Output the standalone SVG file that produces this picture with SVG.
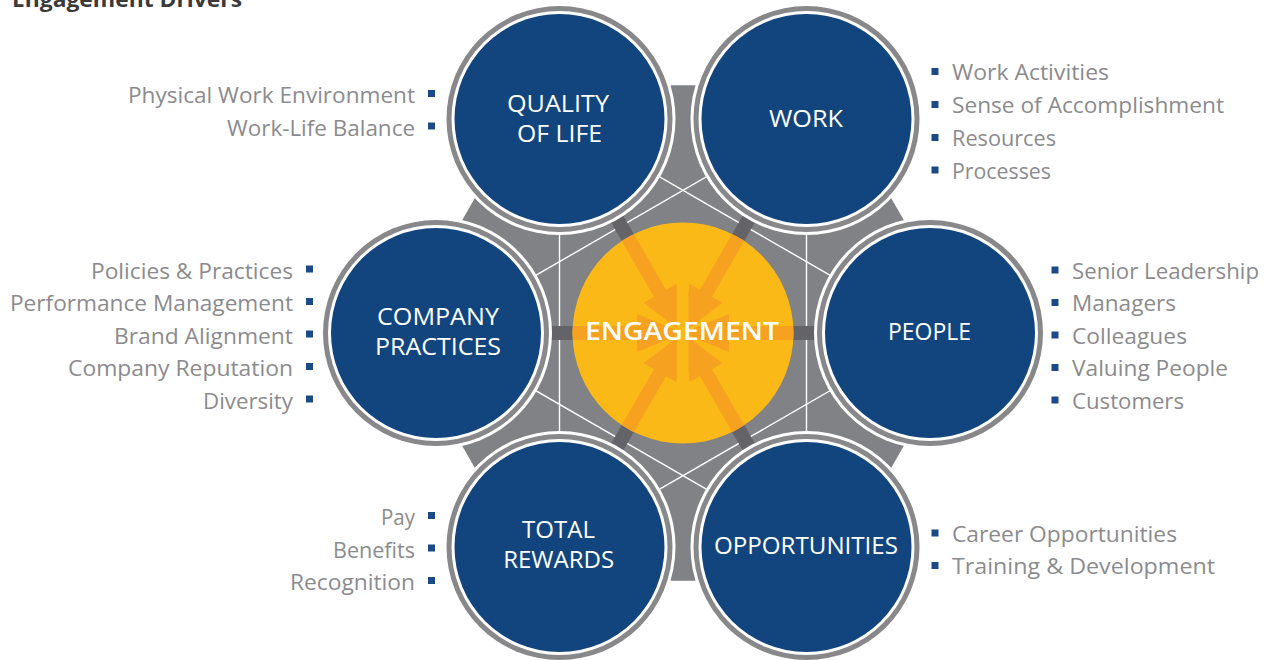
<svg xmlns="http://www.w3.org/2000/svg" width="1272" height="660" viewBox="0 0 1272 660">
<style>
.lst{font-family:"Open Sans","Liberation Sans",sans-serif;font-size:22px;fill:#8b8b8e}
.end{text-anchor:end}
.lbl{font-family:"Open Sans","Liberation Sans",sans-serif;font-size:23px;fill:#ffffff;text-anchor:middle}
.bul{fill:#1b4a86}
.ow{fill:#ffffff}
.ring{fill:#88888b}
.blue{fill:#12457e}
.hx{stroke:#ffffff;stroke-width:1.4;fill:none}
.bar{stroke:#646368;stroke-width:14}
.arr{fill:#f6a11f}
</style>
<defs>
<clipPath id="engClip"><circle cx="683" cy="333" r="110.5"/></clipPath>
<clipPath id="gapClip"><rect x="560" y="200" width="116.8" height="270"/><rect x="688.4" y="200" width="120" height="270"/></clipPath>
<polygon id="arrowShape" points="0,0 46,-19 46,-7 130,-7 130,7 46,7 46,19"/>
</defs>
<rect width="1272" height="660" fill="#ffffff"/>
<text x="12" y="7" font-family="Open Sans, Liberation Sans, sans-serif" font-size="22" font-weight="700" fill="#3a3a3a" textLength="230" lengthAdjust="spacingAndGlyphs">Engagement Drivers</text>

<g id="background">
<polygon points="397,333 540,85.3 826,85.3 969,333 826,580.7 540,580.7" fill="#818285"/>
<line class="hx" x1="559.5" y1="119" x2="930" y2="333"/>
<line class="hx" x1="930" y1="333" x2="559.5" y2="547"/>
<line class="hx" x1="559.5" y1="547" x2="559.5" y2="119"/>
<line class="hx" x1="806.5" y1="119" x2="806.5" y2="547"/>
<line class="hx" x1="806.5" y1="547" x2="436" y2="333"/>
<line class="hx" x1="436" y1="333" x2="806.5" y2="119"/>
</g>

<g id="connectors">
<g transform="translate(683,333)">
<line class="bar" x1="100" y1="0" x2="200" y2="0" transform="rotate(-120)"/>
<line class="bar" x1="100" y1="0" x2="200" y2="0" transform="rotate(-60)"/>
<line class="bar" x1="100" y1="0" x2="200" y2="0" transform="rotate(0)"/>
<line class="bar" x1="100" y1="0" x2="200" y2="0" transform="rotate(60)"/>
<line class="bar" x1="100" y1="0" x2="200" y2="0" transform="rotate(120)"/>
<line class="bar" x1="100" y1="0" x2="200" y2="0" transform="rotate(180)"/>
</g>
</g>

<g id="node-quality-of-life">
<circle class="ow" cx="559.5" cy="119" r="116"/>
<circle class="ring" cx="559.5" cy="119" r="113"/>
<circle class="ow" cx="559.5" cy="119" r="108"/>
<circle class="blue" cx="559.5" cy="119" r="105"/>
<text class="lbl" x="558" y="112" textLength="102" lengthAdjust="spacingAndGlyphs">QUALITY</text>
<text class="lbl" x="559.5" y="142" textLength="85" lengthAdjust="spacingAndGlyphs">OF LIFE</text>
</g>

<g id="node-work">
<circle class="ow" cx="806.5" cy="119" r="116"/>
<circle class="ring" cx="806.5" cy="119" r="113"/>
<circle class="ow" cx="806.5" cy="119" r="108"/>
<circle class="blue" cx="806.5" cy="119" r="105"/>
<text class="lbl" x="806" y="127" textLength="74" lengthAdjust="spacingAndGlyphs">WORK</text>
</g>

<g id="node-company-practices">
<circle class="ow" cx="436" cy="333" r="116"/>
<circle class="ring" cx="436" cy="333" r="113"/>
<circle class="ow" cx="436" cy="333" r="108"/>
<circle class="blue" cx="436" cy="333" r="105"/>
<text class="lbl" x="438" y="325" textLength="122" lengthAdjust="spacingAndGlyphs">COMPANY</text>
<text class="lbl" x="438" y="355" textLength="126" lengthAdjust="spacingAndGlyphs">PRACTICES</text>
</g>

<g id="node-people">
<circle class="ow" cx="930" cy="333" r="116"/>
<circle class="ring" cx="930" cy="333" r="113"/>
<circle class="ow" cx="930" cy="333" r="108"/>
<circle class="blue" cx="930" cy="333" r="105"/>
<text class="lbl" x="929.5" y="340" textLength="83" lengthAdjust="spacingAndGlyphs">PEOPLE</text>
</g>

<g id="node-total-rewards">
<circle class="ow" cx="559.5" cy="547" r="116"/>
<circle class="ring" cx="559.5" cy="547" r="113"/>
<circle class="ow" cx="559.5" cy="547" r="108"/>
<circle class="blue" cx="559.5" cy="547" r="105"/>
<text class="lbl" x="558.5" y="538" textLength="73" lengthAdjust="spacingAndGlyphs">TOTAL</text>
<text class="lbl" x="558.7" y="568" textLength="111" lengthAdjust="spacingAndGlyphs">REWARDS</text>
</g>

<g id="node-opportunities">
<circle class="ow" cx="806.5" cy="547" r="116"/>
<circle class="ring" cx="806.5" cy="547" r="113"/>
<circle class="ow" cx="806.5" cy="547" r="108"/>
<circle class="blue" cx="806.5" cy="547" r="105"/>
<text class="lbl" x="806" y="554" textLength="184" lengthAdjust="spacingAndGlyphs">OPPORTUNITIES</text>
</g>

<g id="node-engagement">
<circle cx="683" cy="333" r="110.5" fill="#fbb918"/>
<g clip-path="url(#engClip)">
<g clip-path="url(#gapClip)">
<g transform="translate(683,333)">
<use href="#arrowShape" class="arr" transform="rotate(-120)"/>
<use href="#arrowShape" class="arr" transform="rotate(-60)"/>
<use href="#arrowShape" class="arr" transform="rotate(0)"/>
<use href="#arrowShape" class="arr" transform="rotate(60)"/>
<use href="#arrowShape" class="arr" transform="rotate(120)"/>
<use href="#arrowShape" class="arr" transform="rotate(180)"/>
</g>
</g>
</g>
<text x="682" y="340" font-family="Open Sans, Liberation Sans, sans-serif" font-size="24.5" font-weight="600" fill="#ffffff" text-anchor="middle" textLength="194" lengthAdjust="spacingAndGlyphs">ENGAGEMENT</text>
</g>

<g id="list-quality-of-life">
<text class="lst end" x="415" y="103" textLength="287" lengthAdjust="spacingAndGlyphs">Physical Work Environment</text>
<text class="lst end" x="415" y="135.5" textLength="188" lengthAdjust="spacingAndGlyphs">Work-Life Balance</text>
<rect class="bul" x="428" y="90" width="7" height="7"/>
<rect class="bul" x="428" y="122.5" width="7" height="7"/>
</g>

<g id="list-company-practices">
<text class="lst end" x="293" y="278.5" textLength="202" lengthAdjust="spacingAndGlyphs">Policies &amp; Practices</text>
<text class="lst end" x="293" y="311" textLength="283" lengthAdjust="spacingAndGlyphs">Performance Management</text>
<text class="lst end" x="293" y="343.5" textLength="179" lengthAdjust="spacingAndGlyphs">Brand Alignment</text>
<text class="lst end" x="293" y="376" textLength="225" lengthAdjust="spacingAndGlyphs">Company Reputation</text>
<text class="lst end" x="293" y="408.5" textLength="90" lengthAdjust="spacingAndGlyphs">Diversity</text>
<rect class="bul" x="306" y="265.5" width="7" height="7"/>
<rect class="bul" x="306" y="298" width="7" height="7"/>
<rect class="bul" x="306" y="330.5" width="7" height="7"/>
<rect class="bul" x="306" y="363" width="7" height="7"/>
<rect class="bul" x="306" y="395.5" width="7" height="7"/>
</g>

<g id="list-total-rewards">
<text class="lst end" x="415" y="525" textLength="34" lengthAdjust="spacingAndGlyphs">Pay</text>
<text class="lst end" x="415" y="557.5" textLength="82" lengthAdjust="spacingAndGlyphs">Benefits</text>
<text class="lst end" x="415" y="590" textLength="125" lengthAdjust="spacingAndGlyphs">Recognition</text>
<rect class="bul" x="428" y="512" width="7" height="7"/>
<rect class="bul" x="428" y="544.5" width="7" height="7"/>
<rect class="bul" x="428" y="577" width="7" height="7"/>
</g>

<g id="list-work">
<text class="lst" x="952" y="80" textLength="157" lengthAdjust="spacingAndGlyphs">Work Activities</text>
<text class="lst" x="952" y="113" textLength="272" lengthAdjust="spacingAndGlyphs">Sense of Accomplishment</text>
<text class="lst" x="952" y="146" textLength="104" lengthAdjust="spacingAndGlyphs">Resources</text>
<text class="lst" x="952" y="178.5" textLength="99" lengthAdjust="spacingAndGlyphs">Processes</text>
<rect class="bul" x="931.5" y="68" width="7" height="7"/>
<rect class="bul" x="931.5" y="101" width="7" height="7"/>
<rect class="bul" x="931.5" y="134" width="7" height="7"/>
<rect class="bul" x="931.5" y="166.5" width="7" height="7"/>
</g>

<g id="list-people">
<text class="lst" x="1072" y="278.5" textLength="187" lengthAdjust="spacingAndGlyphs">Senior Leadership</text>
<text class="lst" x="1072" y="311" textLength="104" lengthAdjust="spacingAndGlyphs">Managers</text>
<text class="lst" x="1072" y="343.5" textLength="115" lengthAdjust="spacingAndGlyphs">Colleagues</text>
<text class="lst" x="1072" y="376" textLength="156" lengthAdjust="spacingAndGlyphs">Valuing People</text>
<text class="lst" x="1072" y="408.5" textLength="112" lengthAdjust="spacingAndGlyphs">Customers</text>
<rect class="bul" x="1051.5" y="266.5" width="7" height="7"/>
<rect class="bul" x="1051.5" y="299" width="7" height="7"/>
<rect class="bul" x="1051.5" y="331.5" width="7" height="7"/>
<rect class="bul" x="1051.5" y="364" width="7" height="7"/>
<rect class="bul" x="1051.5" y="396.5" width="7" height="7"/>
</g>

<g id="list-opportunities">
<text class="lst" x="952" y="541.5" textLength="225" lengthAdjust="spacingAndGlyphs">Career Opportunities</text>
<text class="lst" x="952" y="574" textLength="263" lengthAdjust="spacingAndGlyphs">Training &amp; Development</text>
<rect class="bul" x="931.5" y="529.5" width="7" height="7"/>
<rect class="bul" x="931.5" y="562" width="7" height="7"/>
</g>
</svg>
